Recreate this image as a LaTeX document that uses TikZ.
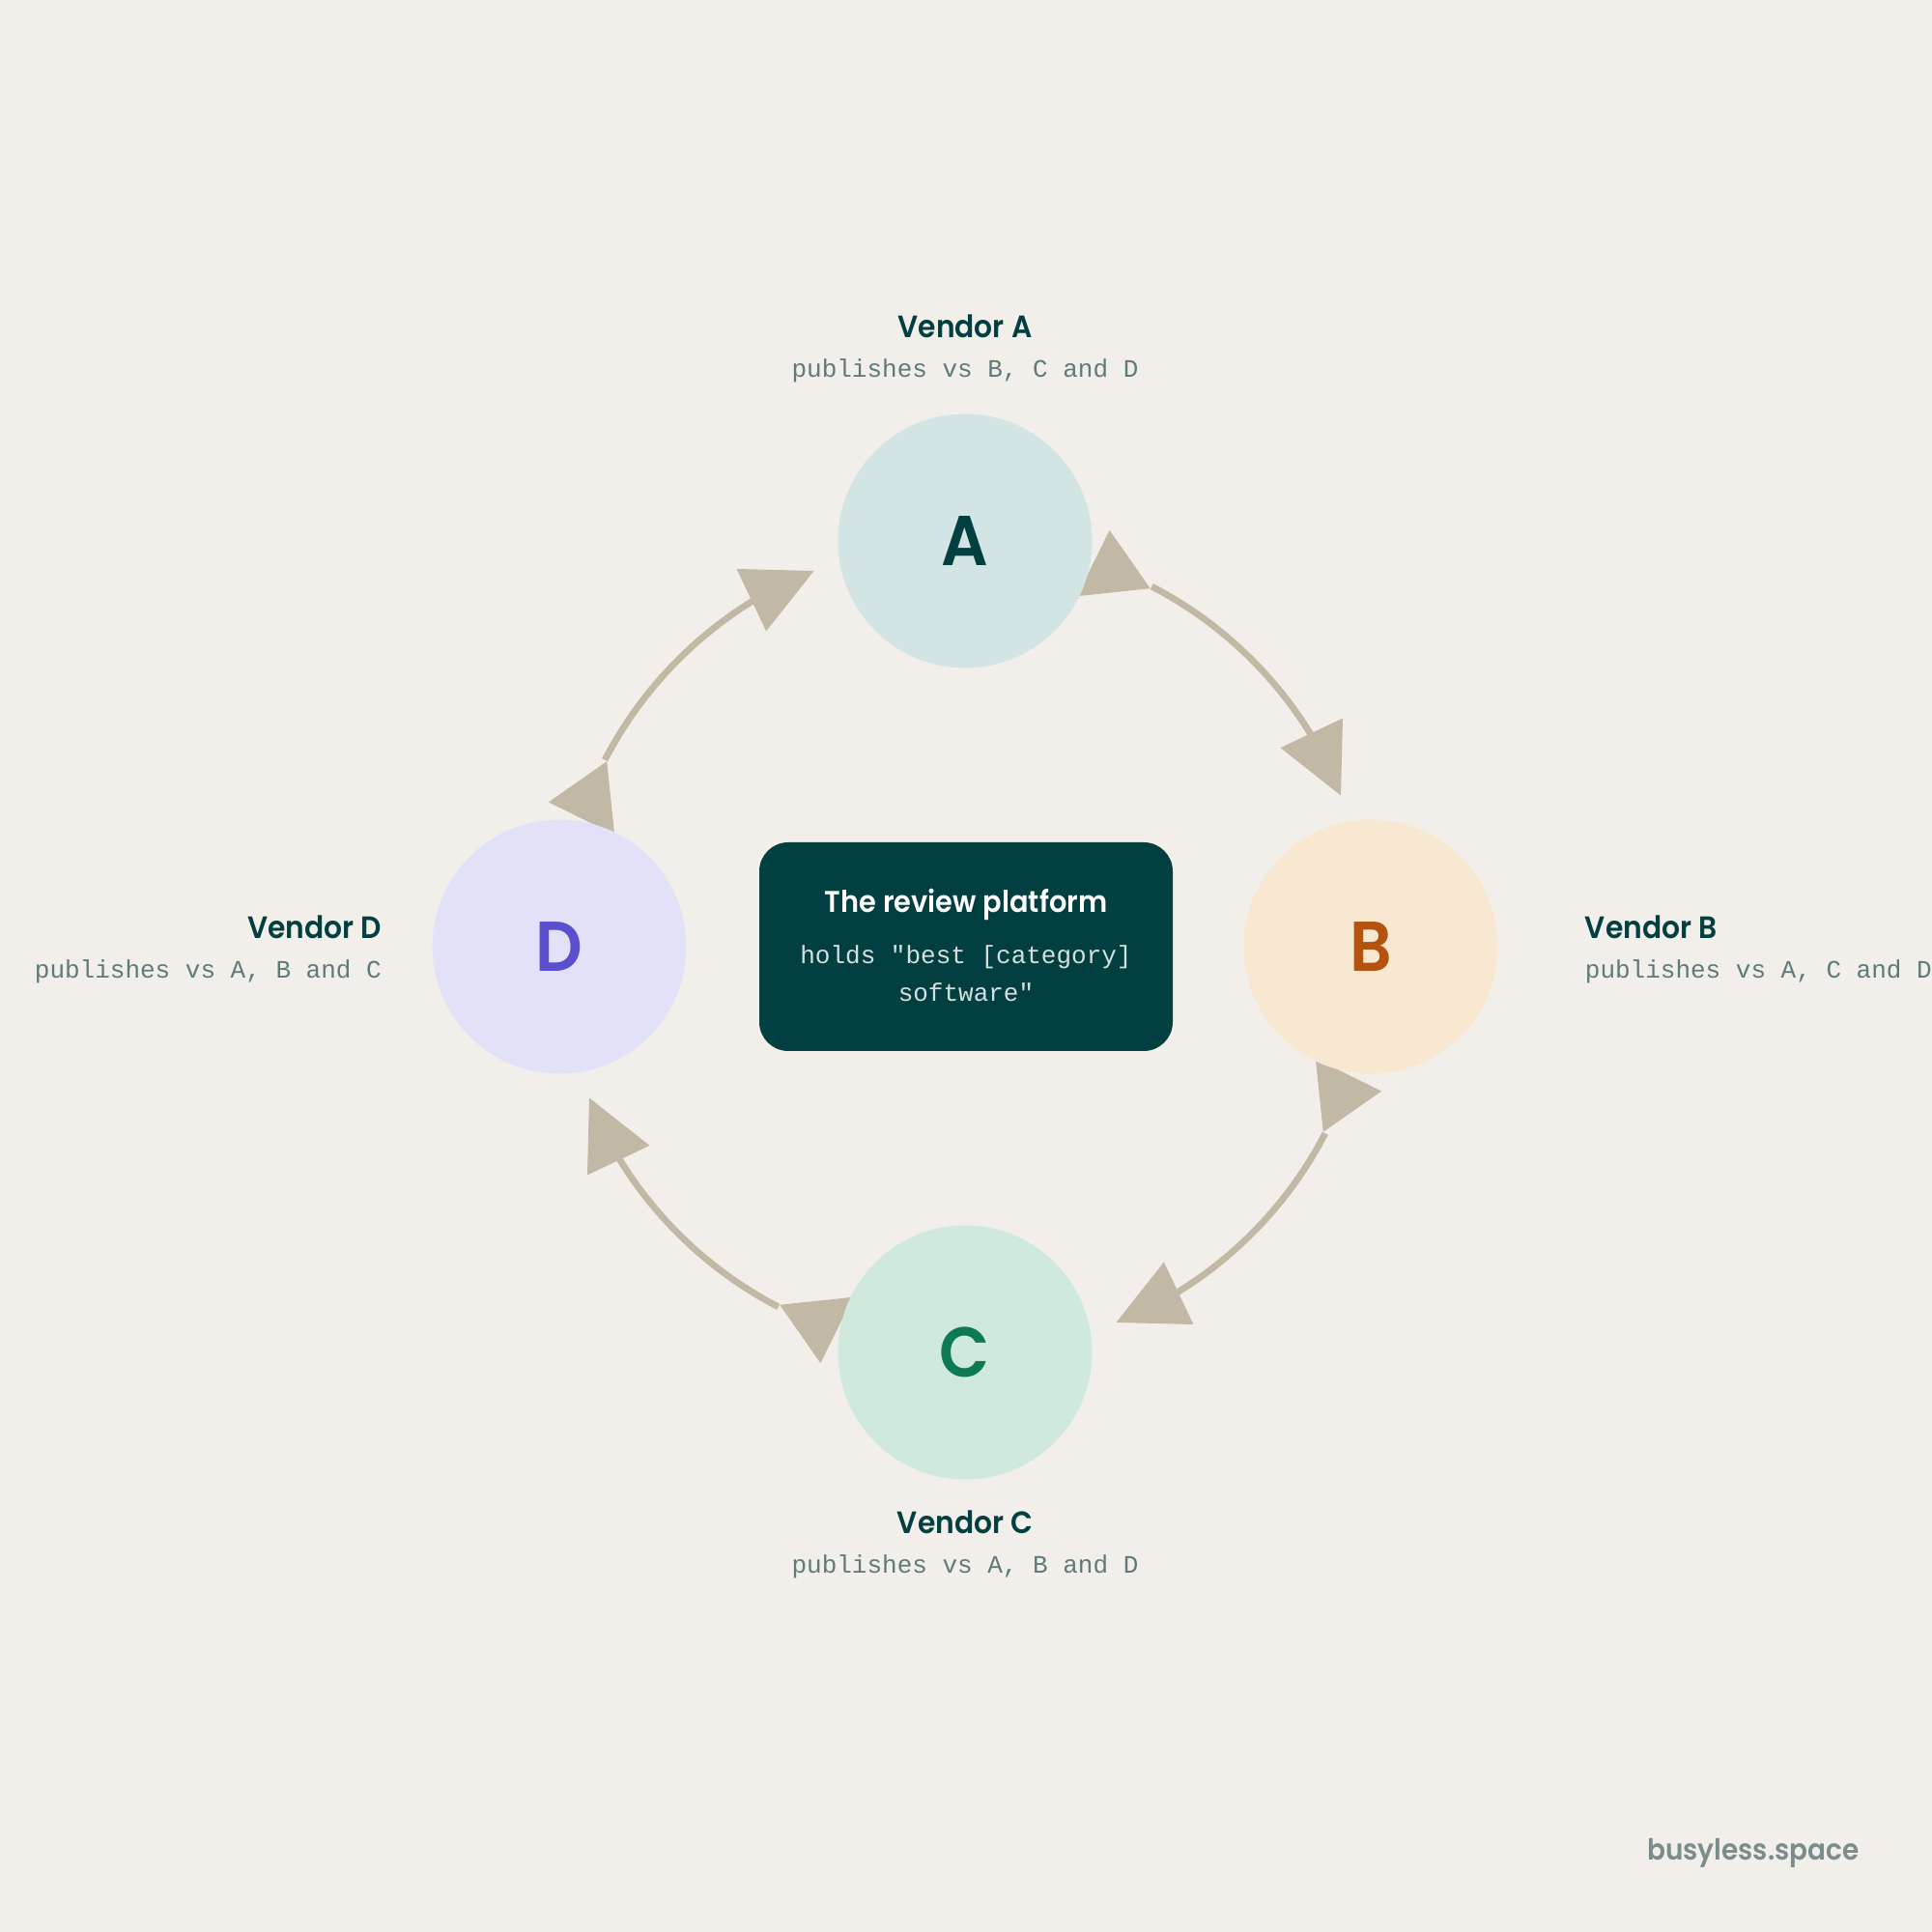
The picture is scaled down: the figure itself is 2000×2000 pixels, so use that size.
\documentclass[tikz,border=0pt]{standalone}
\usepackage{fontspec}
\setmainfont{Poppins}
\newfontfamily\headf[FakeStretch=0.93,BoldFont={Poppins SemiBold}]{Poppins}
\newfontfamily\monof{Liberation Mono}
\usetikzlibrary{calc}
\definecolor{bg}{HTML}{F2EFEA}
\definecolor{teal}{HTML}{023F40}
\definecolor{circA}{HTML}{D3E4E4}
\definecolor{circB}{HTML}{F8E7D1}
\definecolor{circC}{HTML}{CFEADD}
\definecolor{circD}{HTML}{E3E1F8}
\definecolor{letB}{HTML}{B4520F}
\definecolor{letC}{HTML}{0E7A55}
\definecolor{letD}{HTML}{5A4FCF}
\definecolor{arrowc}{HTML}{C2B8A6}
\definecolor{monogrey}{HTML}{5E7B79}
\definecolor{boxmono}{HTML}{D5E0DE}
\definecolor{brand}{HTML}{7A8C8B}
\tikzset{
  vendor/.style={circle,minimum size=263pt,inner sep=0pt,draw=none,
    font=\headf\bfseries\fontsize{73}{80}\selectfont},
  conn/.style={draw=arrowc,line width=6.8pt},
  tip/.style={fill=arrowc},
  vtitle/.style={inner sep=0pt,text=teal,font=\headf\bfseries\fontsize{32}{38}\selectfont},
  vsub/.style={inner sep=0pt,text=monogrey,font=\monof\fontsize{26}{32}\selectfont},
  platform/.style={rectangle,rounded corners=30pt,fill=teal,minimum width=428pt,minimum height=216pt,inner sep=0pt},
}
\begin{document}
\begin{tikzpicture}[x=1pt,y=1pt]
\fill[bg] (0,0) rectangle (2000,2000);
\useasboundingbox (0,0) rectangle (2000,2000);
\coordinate (O) at (999,1020);

% connectors (arcs on the orbit circle)
\coordinate (abS) at ($(O)+(62.6:420)$);
\coordinate (bcS) at ($(O)+(-27.4:420)$);
\coordinate (cdS) at ($(O)+(-117.4:420)$);
\coordinate (daS) at ($(O)+(152.6:420)$);
\draw[conn] (abS) arc[start angle=62.6,end angle=31.6,radius=420];
\draw[conn] (bcS) arc[start angle=-27.4,end angle=-58.4,radius=420];
\draw[conn] (cdS) arc[start angle=-117.4,end angle=-148.4,radius=420];
\draw[conn] (daS) arc[start angle=152.6,end angle=121.6,radius=420];

% start markers
\fill[tip] ($(O)+(149.6,431.1)$) -- ($(O)+(115.8,362.8)$) -- ($(O)+(191.8,370.8)$) -- cycle;
\fill[tip] ($(O)+(431.1,-149.6)$) -- ($(O)+(362.8,-115.8)$) -- ($(O)+(370.8,-191.8)$) -- cycle;
\fill[tip] ($(O)+(-149.6,-431.1)$) -- ($(O)+(-115.8,-362.8)$) -- ($(O)+(-191.8,-370.8)$) -- cycle;
\fill[tip] ($(O)+(-431.1,149.6)$) -- ($(O)+(-362.8,115.8)$) -- ($(O)+(-370.8,191.8)$) -- cycle;

% end markers
\fill[tip] ($(O)+(391,236.4)$) -- ($(O)+(326.5,205.9)$) -- ($(O)+(389,156.5)$) -- cycle;
\fill[tip] ($(O)+(236.4,-391)$) -- ($(O)+(205.9,-326.5)$) -- ($(O)+(156.5,-389)$) -- cycle;
\fill[tip] ($(O)+(-391,-236.4)$) -- ($(O)+(-326.5,-205.9)$) -- ($(O)+(-389,-156.5)$) -- cycle;
\fill[tip] ($(O)+(-236.4,391)$) -- ($(O)+(-205.9,326.5)$) -- ($(O)+(-156.5,389)$) -- cycle;

% vendor circles
\node[vendor,fill=circA,text=teal] (A) at (999,1440) {A};
\node[vendor,fill=circB,text=letB] (B) at (1419,1020) {B};
\node[vendor,fill=circC,text=letC] (C) at (999,600) {C};
\node[vendor,fill=circD,text=letD] (D) at (579,1020) {D};

% platform box
\node[platform] (P) at (1000,1020) {};
\node[inner sep=0pt,anchor=base,text=white,font=\headf\bfseries\fontsize{31}{37}\selectfont] (Pt) at (1000,1055.7) {The review platform};
\node[inner sep=0pt,anchor=base,text=boxmono,font=\monof\fontsize{26}{32}\selectfont] (Pm1) at (1000,1002.3) {holds "best [category]};
\node[inner sep=0pt,anchor=base,text=boxmono,font=\monof\fontsize{26}{32}\selectfont] (Pm2) at (1000,963.3) {software"};

% vendor labels
\node[vtitle,anchor=base] (At) at (999,1650.2) {Vendor A};
\node[vsub,anchor=base] (As) at (999,1609) {publishes vs B, C and D};
\node[vtitle,anchor=base west] (Bt) at (1640.7,1028.3) {Vendor B};
\node[vsub,anchor=base west] (Bs) at (1640.7,987.7) {publishes vs A, C and D};
\node[vtitle,anchor=base east] (Dt) at (395,1028.3) {Vendor D};
\node[vsub,anchor=base east] (Ds) at (395,987.7) {publishes vs A, B and C};
\node[vtitle,anchor=base] (Ct) at (999,412.3) {Vendor C};
\node[vsub,anchor=base] (Cs) at (999,371.7) {publishes vs A, B and D};

% brand
\node[inner sep=0pt,anchor=base west,text=brand,font=\headf\bfseries\fontsize{30}{36}\selectfont] (brandtxt) at (1705,74.3) {busyless.space};
\end{tikzpicture}
\end{document}
